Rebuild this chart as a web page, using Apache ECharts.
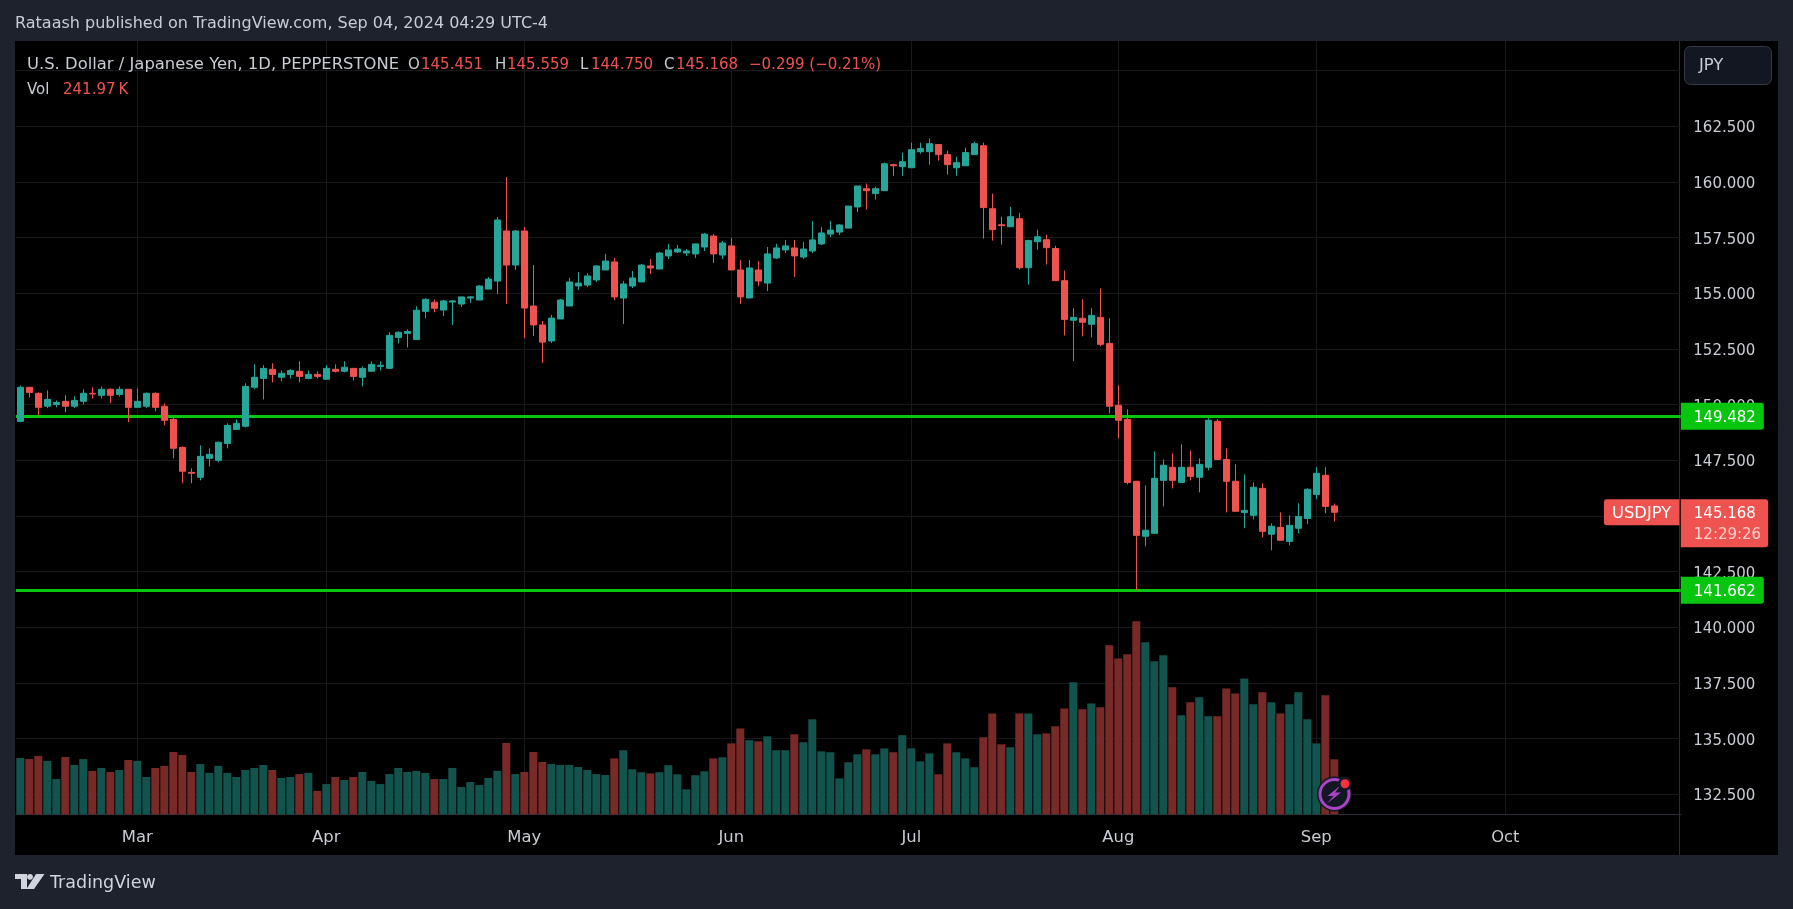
<!DOCTYPE html>
<html>
<head>
<meta charset="utf-8">
<title>USDJPY 1D</title>
<script src="https://cdn.jsdelivr.net/npm/echarts@6/dist/echarts.min.js"></script>
<style>
  html, body { margin: 0; padding: 0; background: #1e222d; }
  #main { width: 1793px; height: 909px; }
</style>
</head>
<body>
<div id="main"></div>
<script>
// daily candles from 2024-02-13 to 2024-09-04
const opens = [
  149.25,150.78,150.51,149.93,150.01,150.15,149.93,150.15,150.51,150.42,
  150.69,150.46,150.69,149.88,149.93,150.51,149.93,149.34,148.08,146.96,
  146.74,147.59,147.50,148.26,148.89,149.03,150.78,151.18,151.59,151.23,
  151.36,151.50,151.18,151.36,151.14,151.59,151.50,151.63,151.23,151.50,
  151.72,151.63,153.02,153.20,152.93,154.19,154.60,154.25,154.61,154.52,
  154.79,154.70,155.19,155.55,157.80,156.27,157.80,154.43,153.58,152.86,
  153.85,154.43,155.33,155.37,155.60,156.05,156.41,154.79,155.33,155.51,
  156.23,156.09,156.68,156.86,156.81,156.77,157.08,157.57,156.72,157.13,
  156.05,154.79,156.05,155.46,156.59,156.95,157.04,156.63,156.90,157.22,
  157.66,157.75,157.93,158.88,159.70,159.48,159.61,160.78,160.69,160.64,
  161.36,161.36,161.68,161.23,160.64,160.73,161.23,161.63,158.80,158.08,
  157.99,158.35,156.15,157.32,157.41,157.01,155.57,153.79,153.88,153.61,
  153.92,152.75,149.97,149.34,146.56,144.09,144.22,146.60,147.19,146.51,
  147.19,146.74,147.19,149.25,147.54,146.56,145.16,145.03,146.24,144.18,
  144.49,143.86,144.45,144.89,145.97,146.83,145.451
];
const closes = [
  150.78,150.55,149.88,150.24,150.10,149.93,150.19,150.51,150.48,150.69,
  150.42,150.69,149.88,150.15,150.51,149.88,149.30,148.04,147.01,146.92,
  147.68,147.77,148.31,149.07,149.16,150.82,151.23,151.63,151.36,151.41,
  151.54,151.27,151.36,151.27,151.63,151.50,151.68,151.27,151.63,151.81,
  151.77,153.11,153.25,153.29,154.24,154.73,154.33,154.66,154.66,154.84,
  154.84,155.33,155.64,158.29,156.27,157.80,154.34,153.58,152.81,153.89,
  154.70,155.51,155.46,155.78,156.23,156.45,154.84,155.42,155.69,156.27,
  156.14,156.81,156.95,156.99,156.90,157.22,157.66,156.77,157.26,156.05,
  154.84,156.14,155.55,156.77,157.04,157.13,156.68,156.99,157.40,157.71,
  157.84,158.07,158.92,159.82,159.61,159.70,160.82,160.73,160.91,161.45,
  161.50,161.72,161.23,160.78,160.87,161.32,161.72,158.85,157.86,158.04,
  158.44,156.15,157.37,157.54,157.05,155.57,153.83,153.92,153.70,154.01,
  152.71,149.93,149.30,146.51,144.13,144.36,146.69,147.28,146.60,147.19,
  146.78,147.32,149.30,147.54,146.56,145.21,145.25,146.29,144.31,144.54,
  143.91,144.58,144.98,146.20,146.92,145.43,145.168
];
const lows = [
  149.21,150.33,149.52,149.84,149.88,149.66,149.84,150.01,150.28,150.28,
  150.06,150.37,149.21,149.88,149.84,149.70,149.07,147.59,146.47,146.47,
  146.60,147.23,147.41,148.04,148.89,148.98,150.69,150.24,151.00,151.05,
  151.18,151.00,151.14,151.18,151.14,151.45,151.45,151.09,150.82,151.50,
  151.54,151.63,152.75,152.57,152.93,153.88,154.15,153.98,153.58,154.39,
  154.57,154.70,155.19,154.97,154.52,156.05,152.99,153.08,151.87,152.77,
  153.85,154.43,155.15,155.28,155.51,156.05,154.70,153.62,155.24,155.51,
  155.87,156.09,156.54,156.81,156.68,156.59,156.90,156.36,156.54,156.05,
  154.52,154.79,155.33,155.10,156.54,156.81,155.73,156.54,156.81,157.17,
  157.53,157.62,157.93,158.65,158.76,159.21,159.61,160.28,160.28,160.64,
  161.27,160.78,160.96,160.33,160.28,160.73,161.23,157.46,157.37,157.19,
  157.99,156.06,155.39,156.96,156.29,155.57,153.11,151.95,153.07,153.02,
  152.62,149.61,148.49,146.42,141.66,143.64,144.22,145.43,146.24,146.51,
  146.60,146.06,147.05,147.54,145.16,145.21,144.45,144.85,144.04,143.46,
  143.91,143.68,144.22,144.63,145.75,145.12,144.75
];
const highs = [
  150.87,150.78,150.55,150.64,150.19,150.42,150.37,150.69,150.78,150.82,
  150.73,150.82,150.69,150.73,150.55,150.55,150.06,149.43,148.13,147.14,
  148.17,148.04,148.35,149.16,149.34,150.96,151.81,151.77,151.86,151.54,
  151.59,151.95,151.54,151.50,151.77,151.81,151.95,151.63,151.72,151.95,
  151.95,153.25,153.29,153.38,154.42,154.78,154.73,154.70,154.70,154.84,
  154.88,155.37,155.73,158.43,160.22,157.84,157.98,156.27,153.76,154.03,
  154.75,155.69,155.96,155.91,156.27,156.77,156.59,155.55,156.00,156.32,
  156.54,156.86,157.22,157.17,156.99,157.22,157.71,157.66,157.35,157.49,
  156.50,156.50,156.45,157.08,157.22,157.40,157.40,157.31,158.25,157.98,
  158.25,158.11,158.92,159.82,159.93,159.79,160.87,160.82,161.32,161.77,
  161.77,161.95,161.68,161.41,161.14,161.54,161.81,161.77,159.48,158.44,
  158.89,158.62,157.41,157.86,157.63,157.14,156.02,154.33,154.73,154.33,
  155.22,153.88,150.87,149.79,146.56,146.38,147.90,147.54,147.81,148.22,
  147.95,147.59,149.39,149.34,148.04,147.32,146.87,146.51,146.47,144.67,
  145.16,145.03,145.57,146.24,147.19,147.19,145.559
];
// volume in thousands
const volumes = [
  248,243,257,235,155,252,217,243,191,204,
  186,195,239,235,164,204,213,274,261,186,
  221,182,213,182,164,195,204,217,195,160,
  164,177,182,103,133,164,151,164,186,147,
  133,177,204,186,191,182,155,155,204,120,
  142,129,160,191,314,177,186,274,230,221,
  217,217,208,195,177,173,246,282,198,185,
  180,185,216,176,110,172,189,246,251,312,
  378,326,321,343,282,282,352,317,418,277,
  273,158,229,264,286,264,290,273,348,290,
  233,268,176,312,273,246,207,339,444,308,
  295,444,444,352,356,387,466,581,462,488,
  471,744,686,704,849,757,673,700,559,436,
  493,515,431,431,554,532,598,484,537,493,
  444,484,537,418,312,524,241.97
];
const levels = [149.482, 141.662];
const lastPrice = 145.168;
const monthLabels = { 13: 'Mar', 34: 'Apr', 56: 'May', 79: 'Jun', 99: 'Jul', 122: 'Aug', 144: 'Sep', 165: 'Oct' };

// weekdays only, runs on past the last candle to leave the empty right side
const categories = [];
for (let d = new Date(Date.UTC(2024, 1, 13)); categories.length < 185; d.setUTCDate(d.getUTCDate() + 1)) {
  if (d.getUTCDay() !== 0 && d.getUTCDay() !== 6) categories.push(d.toISOString().slice(0, 10));
}

const FONT = '"DejaVu Sans", sans-serif';
const SIZE = 15, WORD_SIZE = 16.4;
const UP = '#26a69a', DOWN = '#ef5350', LEVEL = '#08c50f';
const GRID_LINE = '#18191c', BORDER = '#2a2e39', TEXT = '#c9ccd4';

const chart = echarts.init(document.getElementById('main'));

function txt(x, y, text, fill, size, extra) {
  return {
    type: 'text', x: x, y: y, silent: true, z: 50,
    style: Object.assign({ text: text, fill: fill, font: size + 'px ' + FONT, verticalAlign: 'middle' }, extra || {})
  };
}
function rect(x, y, w, h, fill, z, extra) {
  return { type: 'rect', silent: true, z: z, shape: Object.assign({ x: x, y: y, width: w, height: h }, extra || {}), style: { fill: fill } };
}

const graphics = [
  rect(15, 41, 1763, 814, '#000', -10),
  rect(1679, 41, 1, 814, BORDER, -5),
  txt(15, 23.5, 'Rataash published on TradingView.com, Sep 04, 2024 04:29 UTC-4', TEXT, 16),
  txt(27, 65, 'U.S. Dollar / Japanese Yen, 1D, PEPPERSTONE', TEXT, WORD_SIZE),
  txt(408, 65, 'O', TEXT, SIZE), txt(421, 65, '145.451', DOWN, SIZE),
  txt(495, 65, 'H', TEXT, SIZE), txt(507, 65, '145.559', DOWN, SIZE),
  txt(580, 65, 'L', TEXT, SIZE), txt(591, 65, '144.750', DOWN, SIZE),
  txt(664, 65, 'C', TEXT, SIZE), txt(676, 65, '145.168', DOWN, SIZE),
  txt(749, 65, '\u22120.299 (\u22120.21%)', DOWN, SIZE),
  txt(27, 90, 'Vol', TEXT, SIZE), txt(63, 90, '241.97\u2009K', DOWN, SIZE),
  // currency button
  {
    type: 'rect', silent: true, z: 40,
    shape: { x: 1684.5, y: 46.5, width: 87, height: 38, r: 6 },
    style: { fill: '#131722', stroke: '#363a45', lineWidth: 1 }
  },
  txt(1699, 65.5, 'JPY', TEXT, WORD_SIZE),
  // tradingview logo
  { type: 'polygon', silent: true, z: 50, shape: { points: [[15, 874], [27, 874], [27, 889], [21, 889], [21, 879], [15, 879]] }, style: { fill: '#d1d4dc' } },
  { type: 'circle', silent: true, z: 50, shape: { cx: 30, cy: 876.8, r: 2.9 }, style: { fill: '#d1d4dc' } },
  { type: 'polygon', silent: true, z: 50, shape: { points: [[36, 874], [44.5, 874], [34, 889], [26.5, 889]] }, style: { fill: '#d1d4dc' } },
  txt(50, 883.5, 'TradingView', '#d1d4dc', 17.5),
  // bolt badge over the last volume bars
  { type: 'circle', silent: true, z: 60, shape: { cx: 1334.5, cy: 794, r: 17.5 }, style: { fill: '#131722' } },
  { type: 'circle', silent: true, z: 60, shape: { cx: 1334.5, cy: 794, r: 14.5 }, style: { fill: '#131722', stroke: '#a845c4', lineWidth: 3 } },
  { type: 'polygon', silent: true, z: 61, shape: { points: [[1341, 785], [1327.5, 796], [1333.5, 796], [1327, 803.5], [1341, 792.5], [1335, 792.5]] }, style: { fill: '#a845c4' } },
  { type: 'circle', silent: true, z: 62, shape: { cx: 1345, cy: 783.7, r: 7 }, style: { fill: '#131722' } },
  { type: 'circle', silent: true, z: 63, shape: { cx: 1345, cy: 783.7, r: 4.5 }, style: { fill: '#f7323f' } }
];

// padding on a rich token is what moves the text inside a middle aligned label
const levelLines = levels.map(function (v) {
  return {
    yAxis: v,
    lineStyle: { color: LEVEL, width: 3, type: 'solid', opacity: 1 },
    label: {
      show: true, position: 'end', distance: 0, formatter: '{v|' + v.toFixed(3) + '}',
      backgroundColor: LEVEL, borderRadius: [0, 3, 3, 0], padding: [4, 8, 4, 13],
      rich: { v: { color: '#fff', fontFamily: FONT, fontSize: SIZE, padding: [4, 0, 0, 0] } }
    }
  };
});
// the last price has no visible line, only its two tags
const hiddenLine = { color: 'transparent', width: 0, opacity: 1 };
const lastLines = [
  {
    yAxis: lastPrice,
    lineStyle: hiddenLine,
    label: {
      show: true, position: 'end', distance: 0, verticalAlign: 'top', offset: [0, -13],
      formatter: '{a|' + lastPrice.toFixed(3) + '}\n{b|12:29:26}',
      backgroundColor: DOWN, borderRadius: [0, 3, 3, 0], padding: [5, 7, 2, 13],
      rich: {
        a: { color: '#fff', fontFamily: FONT, fontSize: SIZE, lineHeight: 20 },
        b: { color: '#fcd0d0', fontFamily: FONT, fontSize: SIZE, lineHeight: 21 }
      }
    }
  },
  {
    yAxis: lastPrice,
    lineStyle: hiddenLine,
    label: {
      show: true, position: 'insideEnd', distance: 0, verticalAlign: 'middle', align: 'right', offset: [-1.5, 0],
      formatter: '{v|USDJPY}',
      backgroundColor: DOWN, borderRadius: [3, 0, 0, 3], padding: [3, 8, 3, 8],
      rich: { v: { color: '#fff', fontFamily: FONT, fontSize: WORD_SIZE, padding: [4, 0, 0, 0] } }
    }
  }
];

const option = {
  animation: false,
  backgroundColor: '#1e222d',
  textStyle: { fontFamily: FONT },
  graphic: graphics,
  grid: [
    // price pane, sized so that 130 and 167.5 fall on its edges
    { left: 15.8, width: 1665, top: 15, height: 835 },
    // volume overlay
    { left: 15.8, width: 1665, top: 614.3, height: 200 },
    // pane used only for the time axis
    { left: 15.8, width: 1665, top: 41, height: 773.3 }
  ],
  xAxis: [
    { type: 'category', gridIndex: 0, data: categories, show: false },
    { type: 'category', gridIndex: 1, data: categories, show: false },
    {
      type: 'category', gridIndex: 2, data: categories,
      axisLine: { show: true, lineStyle: { color: BORDER, width: 1 } },
      axisTick: { show: false },
      axisLabel: {
        color: TEXT, fontFamily: FONT, fontSize: WORD_SIZE, margin: 15,
        interval: function (i) { return monthLabels[i] !== undefined; },
        formatter: function (v, i) { return monthLabels[i] || ''; }
      },
      splitLine: {
        show: true, alignWithLabel: true,
        interval: function (i) { return monthLabels[i] !== undefined; },
        lineStyle: { color: GRID_LINE, width: 1 }
      }
    }
  ],
  yAxis: [
    {
      type: 'value', gridIndex: 0, position: 'right', min: 130, max: 167.5, interval: 2.5,
      axisLine: { show: false }, axisTick: { show: false },
      axisLabel: {
        margin: 12.5,
        formatter: function (v) { return v >= 132.5 && v <= 162.5 ? '{p|' + v.toFixed(3) + '}' : ''; },
        rich: { p: { color: TEXT, fontFamily: FONT, fontSize: SIZE, padding: [4, 0, 0, 0] } }
      },
      splitLine: { show: true, showMinLine: false, showMaxLine: false, lineStyle: { color: GRID_LINE, width: 1 } }
    },
    { type: 'value', gridIndex: 1, min: 0, max: 880, show: false },
    { type: 'value', gridIndex: 2, min: 0, max: 1, show: false }
  ],
  series: [
    {
      name: 'Vol', type: 'bar', xAxisIndex: 1, yAxisIndex: 1, barWidth: 8, z: 2,
      data: volumes.map(function (v, i) {
        return { value: v, itemStyle: { color: closes[i] >= opens[i] ? '#13534d' : '#782a29' } };
      })
    },
    {
      name: 'USDJPY', type: 'candlestick', xAxisIndex: 0, yAxisIndex: 0, barWidth: 7, z: 5,
      itemStyle: { color: UP, color0: DOWN, borderColor: UP, borderColor0: DOWN, borderWidth: 1 },
      data: opens.map(function (o, i) { return [o, closes[i], lows[i], highs[i]]; }),
      markLine: {
        silent: true, symbol: 'none', animation: false,
        data: levelLines.concat(lastLines)
      }
    }
  ]
};
chart.setOption(option);
</script>
</body>
</html>
